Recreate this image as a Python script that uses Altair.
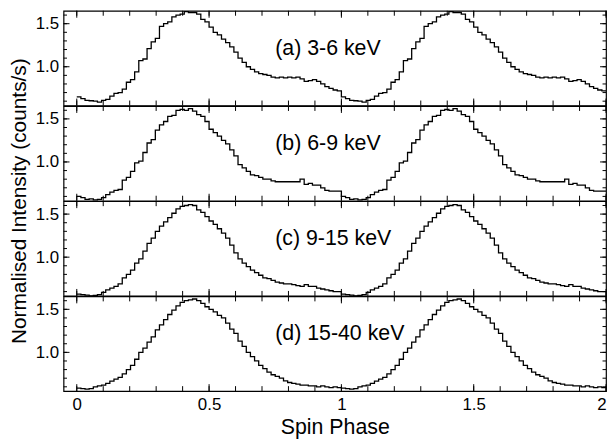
import altair as alt
import pandas as pd

# ---- data (one spin cycle, 64 phase bins; plotted twice) ----
N_BINS = 64
PANEL_A = [0.65, 0.63, 0.61, 0.605, 0.60, 0.59, 0.61, 0.62, 0.66, 0.69, 0.70, 0.74,
           0.82, 0.85, 0.94, 1.07, 1.09, 1.21, 1.29, 1.33, 1.47, 1.50, 1.52, 1.58,
           1.60, 1.61, 1.64, 1.63, 1.63, 1.61, 1.55, 1.52, 1.46, 1.40, 1.37, 1.32,
           1.28, 1.23, 1.17, 1.10, 1.05, 1.00, 0.97, 0.94, 0.92, 0.91, 0.90, 0.88,
           0.87, 0.88, 0.87, 0.88, 0.87, 0.88, 0.86, 0.83, 0.84, 0.85, 0.83, 0.80,
           0.77, 0.75, 0.73, 0.72]
PANEL_B = [0.60, 0.585, 0.565, 0.57, 0.56, 0.565, 0.585, 0.62, 0.65, 0.67, 0.68, 0.79,
           0.82, 0.89, 0.99, 1.01, 1.11, 1.22, 1.26, 1.37, 1.43, 1.47, 1.53, 1.54,
           1.60, 1.61, 1.60, 1.62, 1.59, 1.55, 1.53, 1.47, 1.38, 1.34, 1.30, 1.25,
           1.21, 1.14, 1.07, 0.97, 0.93, 0.89, 0.85, 0.84, 0.82, 0.80, 0.80, 0.78,
           0.77, 0.77, 0.77, 0.77, 0.77, 0.77, 0.80, 0.74, 0.75, 0.73, 0.73, 0.70,
           0.67, 0.66, 0.66, 0.66]
PANEL_C = [0.57, 0.565, 0.56, 0.55, 0.555, 0.565, 0.59, 0.62, 0.64, 0.66, 0.69, 0.76,
           0.80, 0.85, 0.93, 0.98, 1.07, 1.16, 1.22, 1.30, 1.36, 1.41, 1.46, 1.51,
           1.56, 1.59, 1.60, 1.61, 1.60, 1.55, 1.52, 1.47, 1.42, 1.38, 1.33, 1.28,
           1.22, 1.14, 1.05, 0.98, 0.93, 0.89, 0.85, 0.82, 0.79, 0.76, 0.75, 0.73,
           0.71, 0.70, 0.69, 0.69, 0.68, 0.67, 0.66, 0.68, 0.66, 0.66, 0.64, 0.63,
           0.62, 0.61, 0.60, 0.60]
PANEL_D = [0.585, 0.58, 0.573, 0.58, 0.60, 0.61, 0.62, 0.64, 0.665, 0.69, 0.71, 0.75,
           0.80, 0.85, 0.92, 1.00, 1.05, 1.12, 1.18, 1.26, 1.32, 1.38, 1.44, 1.49,
           1.54, 1.58, 1.60, 1.61, 1.62, 1.60, 1.57, 1.53, 1.50, 1.47, 1.43, 1.40,
           1.34, 1.27, 1.22, 1.13, 1.07, 1.00, 0.95, 0.90, 0.85, 0.81, 0.77, 0.74,
           0.72, 0.70, 0.67, 0.65, 0.64, 0.63, 0.62, 0.62, 0.61, 0.61, 0.60, 0.61,
           0.60, 0.59, 0.60, 0.59]
PANELS = [PANEL_A, PANEL_B, PANEL_C, PANEL_D]
LABELS = ["(a) 3-6 keV", "(b) 6-9 keV", "(c) 9-15 keV", "(d) 15-40 keV"]
LABEL_X = 0.75
LABEL_Y = 1.21

X_MAJOR = [0, 0.5, 1, 1.5, 2]
X_MINOR = [0, 0.1, 0.2, 0.3, 0.4, 0.5, 0.6, 0.7, 0.8, 0.9, 1.0,
           1.1, 1.2, 1.3, 1.4, 1.5, 1.6, 1.7, 1.8, 1.9, 2.0]
Y_MAJOR = [1.0, 1.5]
Y_MINOR = [0.6, 0.7, 0.8, 0.9, 1.0, 1.1, 1.2, 1.3, 1.4, 1.5, 1.6]

X_DOMAIN = [-0.05, 2.0]
Y_DOMAIN = [0.55, 1.65]
W = 547
H = 95.5
FONT = "Liberation Sans"

xs = alt.Scale(domain=X_DOMAIN, nice=False, zero=False)
ys = alt.Scale(domain=Y_DOMAIN, nice=False, zero=False)


def panel(values, label, idx):
    phases = [i / N_BINS for i in range(2 * N_BINS)] + [2.0]
    rates = values + values + [values[-1]]
    df = pd.DataFrame({"phase": phases, "rate": rates})

    if idx == 3:
        xaxis = alt.Axis(values=X_MAJOR, format="~g", ticks=False, tickSize=0, domain=False,
                         grid=False, labelFontSize=17, labelPadding=6, labelColor="black",
                         labelFlush=True,
                         title="Spin Phase", titleFontSize=21.5, titleFontWeight="normal",
                         titlePadding=4, titleColor="black")
    else:
        xaxis = alt.Axis(values=X_MAJOR, ticks=False, tickSize=0, domain=False, grid=False,
                         labels=False, title=None)
    ykw = dict(values=Y_MAJOR, format=".1f", ticks=False, tickSize=0, domain=False, grid=False,
               labelFontSize=17, labelPadding=5, labelColor="black")
    if idx == 1:
        yaxis = alt.Axis(title="Normalised Intensity (counts/s)", titleFontSize=21,
                         titleFontWeight="normal", titleColor="black", titleX=-44, titleY=H,
                         titleAlign="center", titleBaseline="middle", **ykw)
    else:
        yaxis = alt.Axis(title=None, **ykw)

    X = alt.X("phase:Q", scale=xs, axis=xaxis)
    Y = alt.Y("rate:Q", scale=ys, axis=yaxis)

    line = alt.Chart(df).mark_line(interpolate="step-after", color="black", strokeWidth=1.3).encode(
        x=X, y=Y)

    xt_minor = pd.DataFrame({"phase": X_MINOR})
    xt_major = pd.DataFrame({"phase": X_MAJOR})
    yt_minor = pd.DataFrame({"rate": Y_MINOR})
    yt_major = pd.DataFrame({"rate": Y_MAJOR})

    def xtick(d, length, top):
        y0, y1 = (0, length) if top else (H, H - length)
        return alt.Chart(d).mark_rule(color="black", strokeWidth=1).encode(
            x=X, y=alt.value(y0), y2=alt.value(y1))

    def ytick(d, length, left):
        x0, x1 = (0, length) if left else (W, W - length)
        return alt.Chart(d).mark_rule(color="black", strokeWidth=1).encode(
            y=Y, x=alt.value(x0), x2=alt.value(x1))

    ticks = [
        xtick(xt_minor, 5, True), xtick(xt_minor, 5, False),
        xtick(xt_major, 7, True), xtick(xt_major, 7, False),
        ytick(yt_minor, 3.5, True), ytick(yt_major, 6, True),
        ytick(yt_minor, 3.5, False), ytick(yt_major, 6, False),
    ]

    text = alt.Chart(pd.DataFrame({"phase": [LABEL_X], "rate": [LABEL_Y], "label": [label]})).mark_text(
        align="left", baseline="middle", fontSize=21.5, font=FONT, color="black"
    ).encode(x=X, y=Y, text="label:N")

    return alt.layer(line, *ticks, text).properties(width=W, height=H)


charts = [panel(v, l, i) for i, (v, l) in enumerate(zip(PANELS, LABELS))]

chart = alt.vconcat(*charts, spacing=0, bounds="flush").properties(
    padding={"left": 0, "top": -2, "right": -2, "bottom": 0}
).configure_view(
    stroke="black", strokeWidth=1.2
).configure_axis(
    labelFont=FONT, titleFont=FONT
).configure_text(font=FONT)

chart.save("out.html", embed_options={"renderer": "svg", "actions": False})
